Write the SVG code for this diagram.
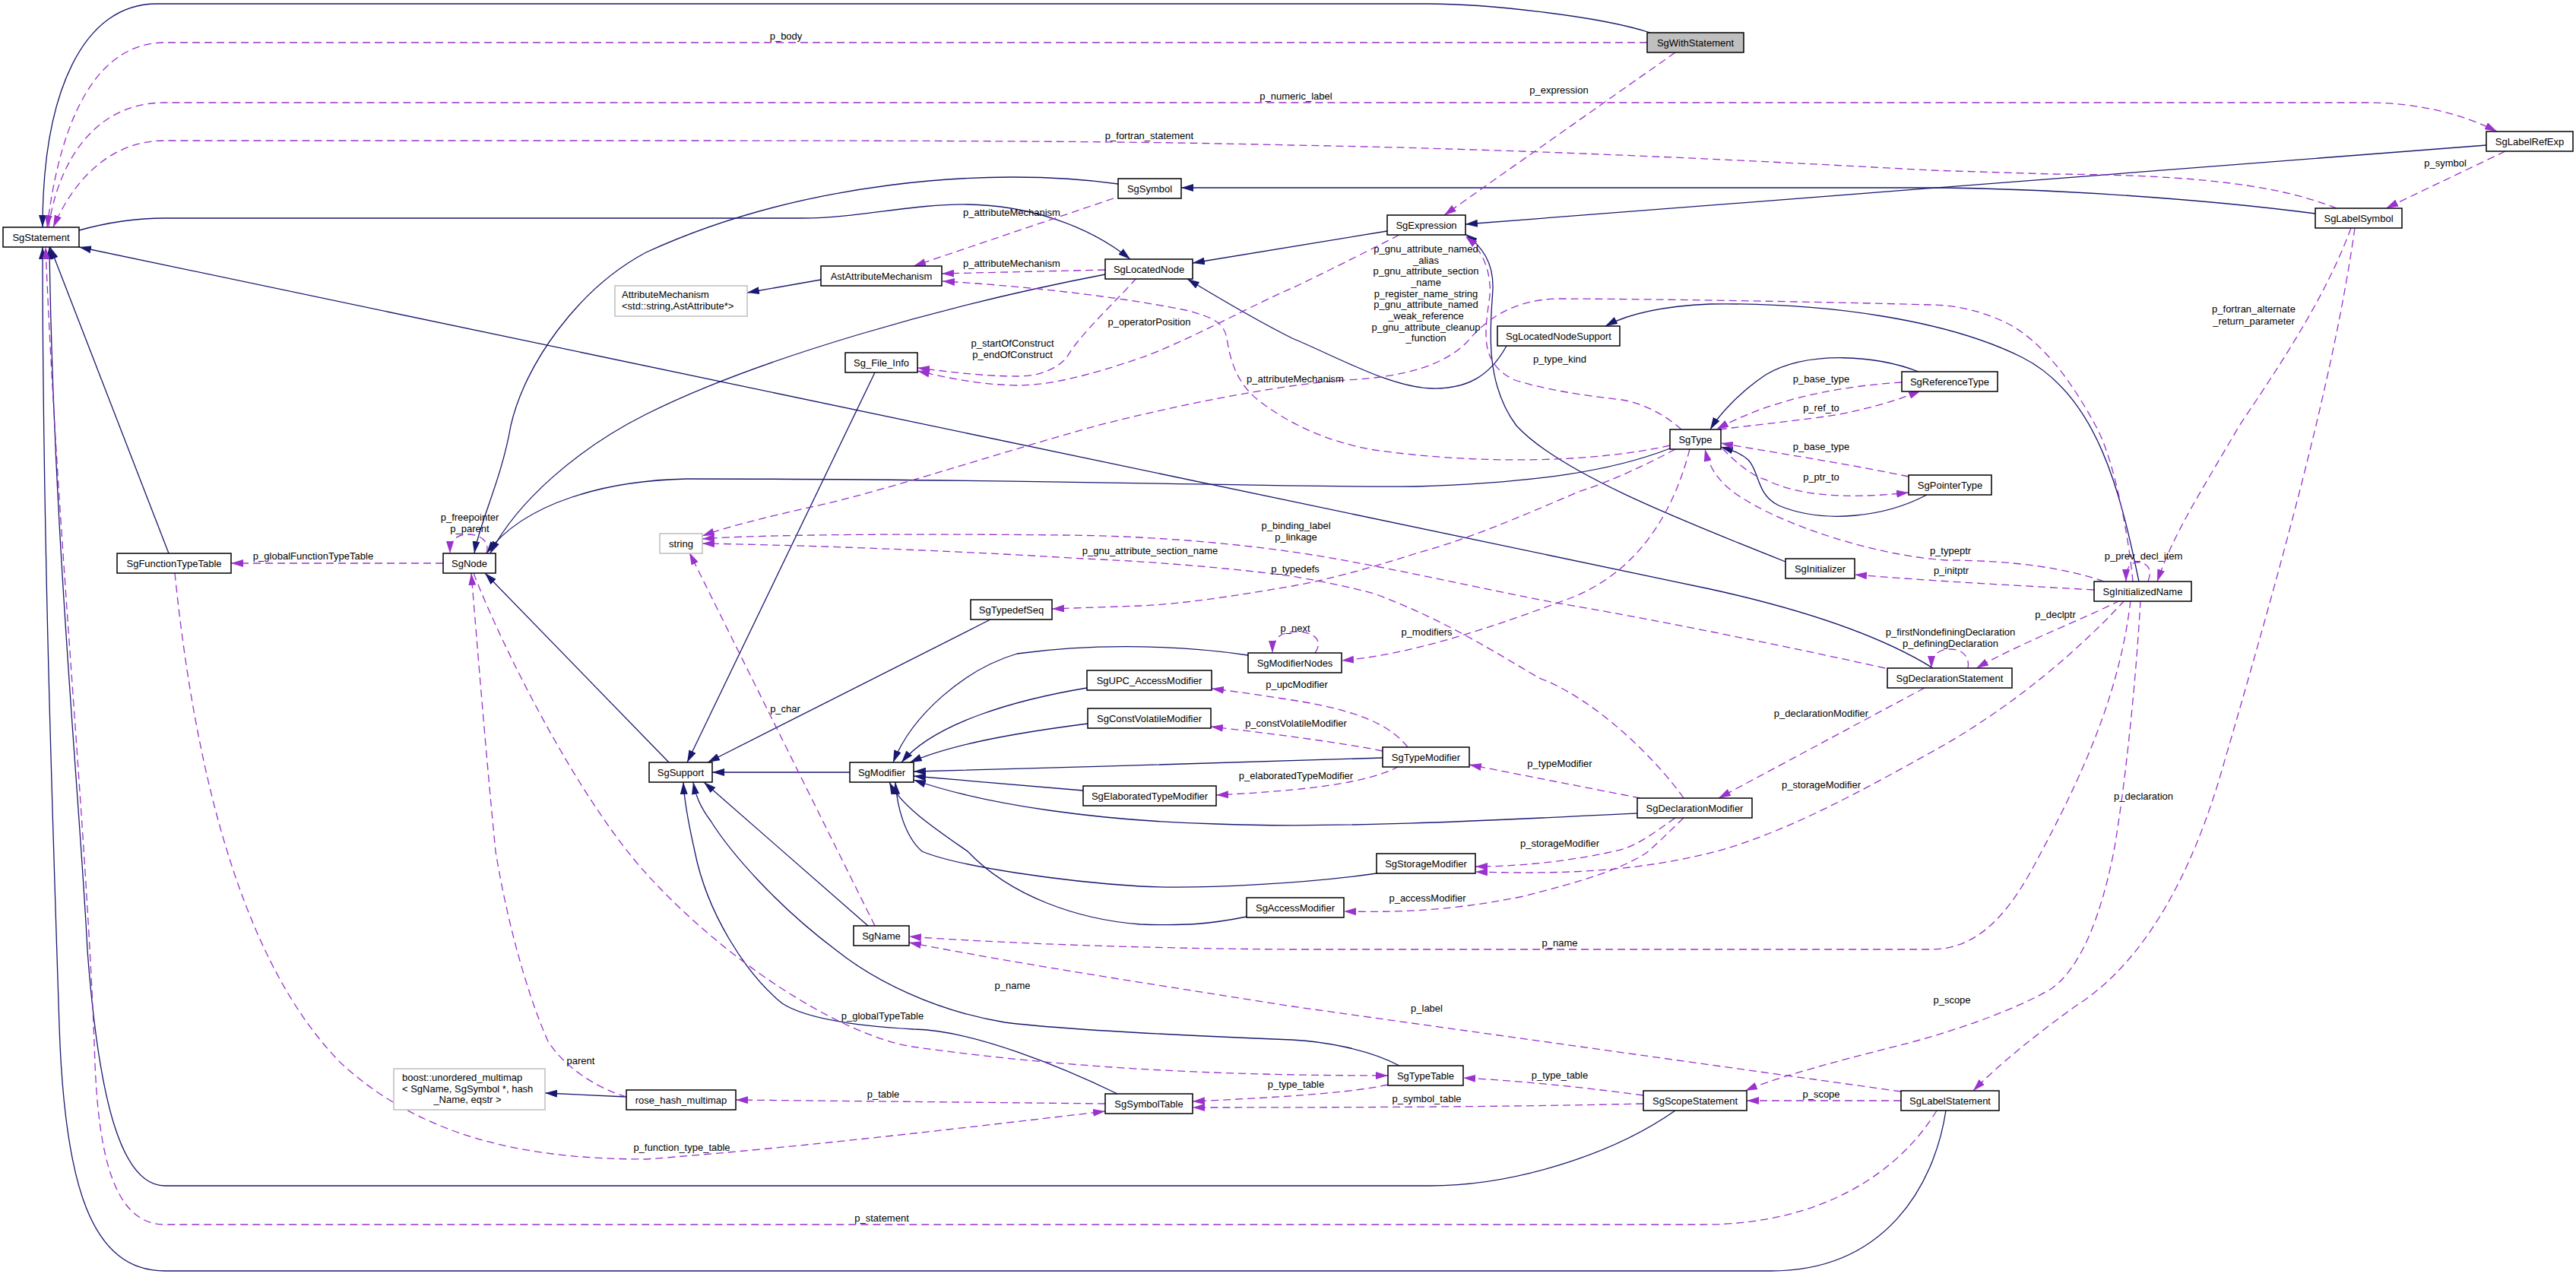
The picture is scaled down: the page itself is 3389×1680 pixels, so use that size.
<svg xmlns="http://www.w3.org/2000/svg" width="3389" height="1680" viewBox="0 0 3389 1680">
<style>
text{font-family:"Liberation Sans",Arial,Helvetica,sans-serif;font-size:13px;fill:#000}
.n rect{fill:#fff;stroke:#000;stroke-width:1.5}
.n text{text-anchor:middle}
.g rect{fill:#fff;stroke:#bfbfbf;stroke-width:1.5}
.w rect{fill:#bfbfbf}
.i{fill:none;stroke:#191970;stroke-width:1.3;marker-end:url(#an)}
.d{fill:none;stroke:#9a32cd;stroke-width:1.3;stroke-dasharray:10,6;marker-end:url(#ap)}
.l{text-anchor:middle}
</style>
<defs>
<marker id="an" viewBox="0 0 16 10" refX="16" refY="5" markerWidth="16" markerHeight="10" markerUnits="userSpaceOnUse" orient="auto"><path d="M0,0 L16,5 L0,10 z" fill="#191970"/></marker>
<marker id="ap" viewBox="0 0 16 10" refX="16" refY="5" markerWidth="16" markerHeight="10" markerUnits="userSpaceOnUse" orient="auto"><path d="M0,0 L16,5 L0,10 z" fill="#9a32cd"/></marker>
</defs>
<rect width="3389" height="1680" fill="#fff"/>
<g id="connectors">
<path class="i" d="M2171,43 C2100,20 1950,5 1879,5 L206,5 C110,5 56,120 56,299"/>
<path class="i" d="M104,303 C140,293 180,287 217,287 L1056,287 C1130,287 1200,268 1273,269 C1350,270 1430,295 1487,341"/>
<path class="i" d="M2543,879 C2490,846 2400,808 2250,775 L104,325"/>
<path class="i" d="M222,728 L66,325"/>
<path class="i" d="M2204,1461 C2120,1520 1990,1560 1880,1560 L217,1560 C160,1560 130,1450 115,1250 C105,1050 70,700 65,325"/>
<path class="i" d="M2560,1461 C2545,1560 2480,1672 2330,1672 L217,1672 C120,1672 85,1560 78,1350 C70,1100 56,700 56,325"/>
<path class="i" d="M1454,361 C1250,400 1000,470 850,545 C760,590 680,660 645,728"/>
<path class="i" d="M1471,242 C1300,218 1050,240 850,332 C760,380 690,480 672,560 C660,630 630,690 624,728"/>
<path class="i" d="M2197,590 C2120,620 2020,635 1863,640 C1700,642 1400,630 904,630 C800,632 690,660 640,728"/>
<path class="i" d="M880,1003 L638,754"/>
<path class="i" d="M1080,368 L983,385"/>
<path class="i" d="M1982,455 C1960,495 1930,512 1884,511 C1830,510 1760,470 1700,445 C1650,420 1600,390 1562,367"/>
<path class="i" d="M1825,304 L1569,346"/>
<path class="i" d="M3271,191 L1928,295"/>
<path class="i" d="M3046,281 C2900,262 2700,248 2540,247 L1554,247"/>
<path class="i" d="M2814,765 C2790,650 2760,520 2660,470 C2560,420 2400,398 2250,400 C2180,403 2140,414 2112,429"/>
<path class="i" d="M2349,739 C2200,680 2050,620 1995,560 C1950,500 1962,420 1964,380 C1965,345 1950,325 1928,308"/>
<path class="i" d="M2524,489 C2470,468 2380,460 2323,493 C2290,515 2262,545 2250,565"/>
<path class="i" d="M2535,651 C2480,680 2400,690 2340,665 C2310,650 2315,620 2300,605 C2290,596 2278,592 2264,588"/>
<path class="i" d="M1303,815 L931,1003"/>
<path class="i" d="M1151,490 L904,1003"/>
<path class="i" d="M1118,1016 L937,1016"/>
<path class="i" d="M1142,1218 L926,1029"/>
<path class="i" d="M1470,1439 C1400,1405 1280,1355 1202,1354 C1130,1350 1060,1340 1029,1320 C980,1280 930,1200 914,1120 C905,1080 900,1050 899,1029"/>
<path class="i" d="M1841,1402 C1800,1380 1740,1370 1700,1368 C1550,1362 1400,1355 1322,1345 C1230,1330 1150,1290 1100,1250 C1020,1190 960,1120 935,1080 C920,1060 915,1045 912,1029"/>
<path class="i" d="M1642,862 C1560,850 1450,845 1338,860 C1270,880 1200,940 1175,1003"/>
<path class="i" d="M1430,905 C1340,920 1230,950 1186,1003"/>
<path class="i" d="M1431,952 C1330,965 1250,980 1197,1003"/>
<path class="i" d="M1819,997 C1700,1001 1400,1010 1202,1015"/>
<path class="i" d="M1425,1040 L1202,1021"/>
<path class="i" d="M2154,1070 C1950,1080 1750,1090 1600,1084 C1450,1080 1300,1060 1202,1026"/>
<path class="i" d="M1811,1149 C1720,1162 1580,1170 1500,1166 C1400,1160 1260,1140 1213,1120 C1190,1100 1180,1060 1178,1029"/>
<path class="i" d="M1640,1206 C1590,1216 1560,1218 1500,1216 C1420,1210 1330,1180 1273,1120 C1230,1090 1185,1060 1170,1029"/>
<path class="i" d="M824,1443 L717,1438"/>
<path class="d" d="M2167,56 L217,56 C130,56 80,150 62,299"/>
<path class="d" d="M64,299 C75,220 120,135 217,135 L3115,135 C3180,135 3240,150 3285,173"/>
<path class="d" d="M3074,274 C3000,245 2900,230 2700,229 L2540,224 C2300,211 2000,196 1700,191 C1500,186 1300,185 850,185 L217,185 C150,185 100,230 70,299"/>
<path class="d" d="M2204,69 L1900,283"/>
<path class="d" d="M3296,199 L3139,274"/>
<path class="d" d="M1465,261 L1202,350"/>
<path class="d" d="M1454,355 L1239,360"/>
<path class="d" d="M2197,586 C2100,608 1950,612 1808,592 C1750,582 1700,560 1660,530 C1625,505 1618,470 1614,445 C1610,425 1598,418 1560,408 C1460,388 1330,375 1240,370"/>
<path class="d" d="M1841,309 C1790,335 1740,360 1700,379 C1650,400 1560,450 1500,471 C1430,495 1380,507 1338,507 C1290,506 1250,498 1207,488"/>
<path class="d" d="M1495,366 C1470,395 1420,440 1403,471 C1385,490 1360,495 1338,495 C1290,495 1240,488 1207,484"/>
<path class="d" d="M2806,765 C2800,700 2780,600 2757,560 C2730,510 2690,450 2640,425 C2600,405 2560,401 2540,401 C2400,397 2150,393 2047,393 C1990,395 1955,420 1930,450 C1900,480 1850,496 1770,500 C1720,503 1600,520 1443,560 C1300,600 1150,650 1067,667 C1010,680 960,692 924,705"/>
<path class="d" d="M2480,879 C2350,850 2150,810 2052,794 C1950,775 1800,740 1700,726 C1600,712 1500,705 1400,704 C1200,702 1000,703 924,709"/>
<path class="d" d="M2215,1050 C2180,1000 2100,920 2025,892 C1970,860 1900,815 1808,781 C1760,768 1720,762 1700,758 C1600,745 1500,738 1425,735 C1300,727 1100,718 924,715"/>
<path class="d" d="M1151,1218 L907,727"/>
<path class="d" d="M2204,591 C2150,620 2100,640 2079,646 C2000,680 1930,710 1863,728 C1800,748 1750,762 1700,771 C1620,785 1550,795 1500,797 L1384,801"/>
<path class="d" d="M2223,591 C2200,680 2150,760 2052,792 C1950,830 1850,862 1765,869"/>
<path class="d" d="M1730,859 C1742,842 1728,831 1705,831 C1685,831 1674,840 1674,859"/>
<path class="d" d="M1852,983 C1830,955 1790,935 1700,921 C1660,915 1630,910 1594,906"/>
<path class="d" d="M1819,988 C1780,980 1700,968 1593,956"/>
<path class="d" d="M1841,1008 C1800,1030 1720,1040 1600,1046"/>
<path class="d" d="M2158,1050 L1933,1006"/>
<path class="d" d="M2532,905 L2261,1050"/>
<path class="d" d="M2795,790 C2740,850 2650,930 2540,990 C2450,1040 2350,1095 2258,1120 C2150,1148 2050,1150 1941,1147"/>
<path class="d" d="M2204,1076 C2170,1100 2150,1115 2123,1120 C2080,1130 2010,1140 1941,1140"/>
<path class="d" d="M2215,1076 C2190,1100 2175,1115 2166,1122 C2130,1145 2080,1160 2000,1180 C1900,1200 1830,1200 1768,1199"/>
<path class="d" d="M2768,765 C2720,748 2650,737 2560,737 C2460,730 2350,690 2300,660 C2265,640 2250,620 2243,591"/>
<path class="d" d="M2755,776 C2650,770 2550,765 2440,756"/>
<path class="d" d="M2826,765 C2832,748 2825,740 2812,740 C2800,740 2797,750 2797,765"/>
<path class="d" d="M3093,300 C3060,390 3000,480 2946,560 C2900,640 2860,700 2838,765"/>
<path class="d" d="M2789,790 C2740,815 2660,845 2600,879"/>
<path class="d" d="M2589,879 C2592,862 2580,854 2565,854 C2550,854 2541,862 2541,879"/>
<path class="d" d="M2803,790 C2790,900 2750,1000 2686,1120 C2650,1190 2610,1249 2540,1249 L1700,1249 C1500,1248 1300,1240 1196,1232"/>
<path class="d" d="M2816,790 C2810,900 2795,1040 2781,1120 C2765,1200 2740,1270 2700,1300 C2650,1330 2560,1360 2500,1375 C2400,1400 2330,1420 2296,1435"/>
<path class="d" d="M3098,300 C3070,500 3000,750 2920,1024 C2870,1190 2800,1280 2730,1324 C2680,1360 2630,1400 2596,1435"/>
<path class="d" d="M2501,1448 L2298,1448"/>
<path class="d" d="M2501,1436 L1700,1324 C1550,1300 1350,1270 1196,1240"/>
<path class="d" d="M2548,1461 C2500,1540 2400,1611 2240,1611 L217,1611 C150,1611 130,1520 125,1400 C115,1100 75,700 60,325"/>
<path class="d" d="M2162,1441 C2080,1430 2000,1422 1925,1418"/>
<path class="d" d="M1826,1427 C1780,1437 1700,1443 1569,1449"/>
<path class="d" d="M2162,1452 C2000,1456 1800,1457 1569,1457"/>
<path class="d" d="M1454,1452 L968,1447"/>
<path class="d" d="M230,754 C250,950 300,1250 450,1400 C560,1500 700,1525 850,1525 C1050,1510 1300,1480 1454,1462"/>
<path class="d" d="M824,1443 C780,1430 740,1400 721,1370 C690,1300 665,1200 652,1120 C640,1000 628,850 620,754"/>
<path class="d" d="M623,754 C660,850 760,1050 850,1149 C950,1260 1100,1360 1200,1377 C1400,1405 1600,1415 1826,1415"/>
<path class="d" d="M640,728 C645,712 632,703 615,703 C600,703 592,712 592,728"/>
<path class="d" d="M583,741 L304,741"/>
<path class="d" d="M2262,565 C2300,560 2380,552 2420,545 C2470,535 2500,525 2527,514"/>
<path class="d" d="M2502,503 C2420,508 2330,525 2258,565"/>
<path class="d" d="M2511,627 C2440,612 2350,598 2264,583"/>
<path class="d" d="M2266,590 C2290,615 2310,628 2323,631 C2360,650 2420,658 2511,648"/>
<path class="d" d="M2212,565 C2190,545 2160,530 2134,526 C2080,520 2030,512 1993,500 C1960,485 1955,460 1955,439 C1955,410 1962,390 1960,375 C1958,345 1945,325 1928,311"/>
</g>
<g id="edge-labels">
<text class="l" x="1034" y="52">p_body</text>
<text class="l" x="1705" y="131">p_numeric_label</text>
<text class="l" x="1512" y="183">p_fortran_statement</text>
<text class="l" x="2051" y="123">p_expression</text>
<text class="l" x="3217" y="219">p_symbol</text>
<text class="l" x="1331" y="284">p_attributeMechanism</text>
<text class="l" x="1331" y="351">p_attributeMechanism</text>
<text class="l" x="1704" y="503">p_attributeMechanism</text>
<text class="l" x="1512" y="428">p_operatorPosition</text>
<text class="l" x="1332" y="456">p_startOfConstruct</text>
<text class="l" x="1332" y="471">p_endOfConstruct</text>
<text class="l" x="1876" y="332">p_gnu_attribute_named</text>
<text class="l" x="1876" y="347">_alias</text>
<text class="l" x="1876" y="361">p_gnu_attribute_section</text>
<text class="l" x="1876" y="376">_name</text>
<text class="l" x="1876" y="391">p_register_name_string</text>
<text class="l" x="1876" y="405">p_gnu_attribute_named</text>
<text class="l" x="1876" y="420">_weak_reference</text>
<text class="l" x="1876" y="435">p_gnu_attribute_cleanup</text>
<text class="l" x="1876" y="449">_function</text>
<text class="l" x="2052" y="477">p_type_kind</text>
<text class="l" x="2396" y="503">p_base_type</text>
<text class="l" x="2396" y="541">p_ref_to</text>
<text class="l" x="2965" y="411">p_fortran_alternate</text>
<text class="l" x="2965" y="427">_return_parameter</text>
<text class="l" x="2396" y="592">p_base_type</text>
<text class="l" x="2396" y="632">p_ptr_to</text>
<text class="l" x="618" y="685">p_freepointer</text>
<text class="l" x="618" y="700">p_parent</text>
<text class="l" x="412" y="736">p_globalFunctionTypeTable</text>
<text class="l" x="1705" y="696">p_binding_label</text>
<text class="l" x="1705" y="711">p_linkage</text>
<text class="l" x="1513" y="729">p_gnu_attribute_section_name</text>
<text class="l" x="1704" y="753">p_typedefs</text>
<text class="l" x="2566" y="729">p_typeptr</text>
<text class="l" x="2820" y="736">p_prev_decl_item</text>
<text class="l" x="2567" y="755">p_initptr</text>
<text class="l" x="2704" y="813">p_declptr</text>
<text class="l" x="1704" y="831">p_next</text>
<text class="l" x="1877" y="836">p_modifiers</text>
<text class="l" x="2566" y="836">p_firstNondefiningDeclaration</text>
<text class="l" x="2566" y="851">p_definingDeclaration</text>
<text class="l" x="1706" y="905">p_upcModifier</text>
<text class="l" x="1033" y="937">p_char</text>
<text class="l" x="2396" y="943">p_declarationModifier</text>
<text class="l" x="1705" y="956">p_constVolatileModifier</text>
<text class="l" x="2052" y="1009">p_typeModifier</text>
<text class="l" x="1705" y="1025">p_elaboratedTypeModifier</text>
<text class="l" x="2396" y="1037">p_storageModifier</text>
<text class="l" x="2820" y="1052">p_declaration</text>
<text class="l" x="2052" y="1114">p_storageModifier</text>
<text class="l" x="1878" y="1186">p_accessModifier</text>
<text class="l" x="2052" y="1245">p_name</text>
<text class="l" x="1332" y="1301">p_name</text>
<text class="l" x="2568" y="1320">p_scope</text>
<text class="l" x="1877" y="1331">p_label</text>
<text class="l" x="1161" y="1341">p_globalTypeTable</text>
<text class="l" x="764" y="1400">parent</text>
<text class="l" x="2052" y="1419">p_type_table</text>
<text class="l" x="1705" y="1431">p_type_table</text>
<text class="l" x="1162" y="1444">p_table</text>
<text class="l" x="2396" y="1444">p_scope</text>
<text class="l" x="1877" y="1450">p_symbol_table</text>
<text class="l" x="897" y="1514">p_function_type_table</text>
<text class="l" x="1160" y="1607">p_statement</text>
</g>
<g id="SgWithStatement" class="n w"><rect x="2167" y="43" width="127" height="26"/><text x="2230.5" y="60.5">SgWithStatement</text></g>
<g id="SgStatement" class="n"><rect x="4" y="299" width="100" height="26"/><text x="54" y="316.5">SgStatement</text></g>
<g id="SgLabelRefExp" class="n"><rect x="3271" y="173" width="114" height="26"/><text x="3328" y="190.5">SgLabelRefExp</text></g>
<g id="SgSymbol" class="n"><rect x="1471" y="235" width="83" height="26"/><text x="1512.5" y="252.5">SgSymbol</text></g>
<g id="SgExpression" class="n"><rect x="1825" y="283" width="103" height="26"/><text x="1876.5" y="300.5">SgExpression</text></g>
<g id="SgLabelSymbol" class="n"><rect x="3046" y="274" width="114" height="26"/><text x="3103" y="291.5">SgLabelSymbol</text></g>
<g id="SgLocatedNode" class="n"><rect x="1454" y="341" width="115" height="26"/><text x="1511.5" y="358.5">SgLocatedNode</text></g>
<g id="AstAttributeMechanism" class="n"><rect x="1080" y="350" width="159" height="26"/><text x="1159.5" y="367.5">AstAttributeMechanism</text></g>
<g id="AttributeMechanism" class="g"><rect x="809" y="376" width="174" height="40"/><text x="818" y="392">AttributeMechanism</text><text x="818" y="407">&lt;std::string,AstAttribute*&gt;</text></g>
<g id="Sg_File_Info" class="n"><rect x="1112" y="464" width="95" height="26"/><text x="1159.5" y="481.5">Sg_File_Info</text></g>
<g id="SgLocatedNodeSupport" class="n"><rect x="1970" y="429" width="161" height="26"/><text x="2050.5" y="446.5">SgLocatedNodeSupport</text></g>
<g id="SgReferenceType" class="n"><rect x="2502" y="489" width="126" height="26"/><text x="2565" y="506.5">SgReferenceType</text></g>
<g id="SgType" class="n"><rect x="2197" y="565" width="67" height="26"/><text x="2230.5" y="582.5">SgType</text></g>
<g id="SgPointerType" class="n"><rect x="2511" y="625" width="109" height="26"/><text x="2565.5" y="642.5">SgPointerType</text></g>
<g id="string" class="g"><rect x="868" y="702" width="56" height="26"/><text x="896" y="719.5" text-anchor="middle">string</text></g>
<g id="SgFunctionTypeTable" class="n"><rect x="154" y="728" width="150" height="26"/><text x="229" y="745.5">SgFunctionTypeTable</text></g>
<g id="SgNode" class="n"><rect x="583" y="728" width="69" height="26"/><text x="617.5" y="745.5">SgNode</text></g>
<g id="SgInitializer" class="n"><rect x="2349" y="735" width="91" height="26"/><text x="2394.5" y="752.5">SgInitializer</text></g>
<g id="SgInitializedName" class="n"><rect x="2755" y="765" width="128" height="26"/><text x="2819" y="782.5">SgInitializedName</text></g>
<g id="SgTypedefSeq" class="n"><rect x="1277" y="789" width="107" height="26"/><text x="1330.5" y="806.5">SgTypedefSeq</text></g>
<g id="SgModifierNodes" class="n"><rect x="1642" y="859" width="123" height="26"/><text x="1703.5" y="876.5">SgModifierNodes</text></g>
<g id="SgDeclarationStatement" class="n"><rect x="2483" y="879" width="164" height="26"/><text x="2565" y="896.5">SgDeclarationStatement</text></g>
<g id="SgUPC_AccessModifier" class="n"><rect x="1430" y="882" width="164" height="26"/><text x="1512" y="899.5">SgUPC_AccessModifier</text></g>
<g id="SgConstVolatileModifier" class="n"><rect x="1431" y="932" width="162" height="26"/><text x="1512" y="949.5">SgConstVolatileModifier</text></g>
<g id="SgTypeModifier" class="n"><rect x="1819" y="983" width="114" height="26"/><text x="1876" y="1000.5">SgTypeModifier</text></g>
<g id="SgSupport" class="n"><rect x="854" y="1003" width="83" height="26"/><text x="895.5" y="1020.5">SgSupport</text></g>
<g id="SgModifier" class="n"><rect x="1118" y="1003" width="84" height="26"/><text x="1160" y="1020.5">SgModifier</text></g>
<g id="SgElaboratedTypeModifier" class="n"><rect x="1425" y="1034" width="175" height="26"/><text x="1512.5" y="1051.5">SgElaboratedTypeModifier</text></g>
<g id="SgDeclarationModifier" class="n"><rect x="2154" y="1050" width="151" height="26"/><text x="2229.5" y="1067.5">SgDeclarationModifier</text></g>
<g id="SgStorageModifier" class="n"><rect x="1811" y="1123" width="130" height="26"/><text x="1876" y="1140.5">SgStorageModifier</text></g>
<g id="SgAccessModifier" class="n"><rect x="1640" y="1181" width="128" height="26"/><text x="1704" y="1198.5">SgAccessModifier</text></g>
<g id="SgName" class="n"><rect x="1123" y="1218" width="73" height="26"/><text x="1159.5" y="1235.5">SgName</text></g>
<g id="SgTypeTable" class="n"><rect x="1826" y="1402" width="99" height="26"/><text x="1875.5" y="1419.5">SgTypeTable</text></g>
<g id="boost_unordered_multimap" class="g"><rect x="518" y="1406" width="199" height="54"/><text x="529" y="1422">boost::unordered_multimap</text><text x="529" y="1437">&lt; SgName, SgSymbol *, hash</text><text x="615" y="1451" text-anchor="middle">_Name, eqstr &gt;</text></g>
<g id="rose_hash_multimap" class="n"><rect x="824" y="1434" width="144" height="26"/><text x="896" y="1451.5">rose_hash_multimap</text></g>
<g id="SgSymbolTable" class="n"><rect x="1454" y="1439" width="115" height="26"/><text x="1511.5" y="1456.5">SgSymbolTable</text></g>
<g id="SgScopeStatement" class="n"><rect x="2162" y="1435" width="136" height="26"/><text x="2230" y="1452.5">SgScopeStatement</text></g>
<g id="SgLabelStatement" class="n"><rect x="2501" y="1435" width="129" height="26"/><text x="2565.5" y="1452.5">SgLabelStatement</text></g>
</svg>
